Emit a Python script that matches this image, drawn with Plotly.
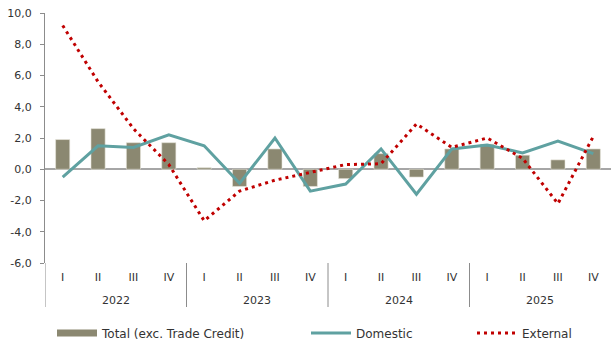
import plotly.graph_objects as go

# Quarterly contributions, 2022-2025
years = ["2022", "2023", "2024", "2025"]
quarters = ["I", "II", "III", "IV"]

total = [1.9, 2.6, 1.7, 1.7,
         0.1, -1.1, 1.3, -1.1,
         -0.6, 1.0, -0.5, 1.3,
         1.6, 0.9, 0.6, 1.3]
domestic = [-0.5, 1.5, 1.4, 2.2,
            1.5, -0.9, 2.0, -1.4,
            -0.95, 1.3, -1.6, 1.3,
            1.55, 1.05, 1.8, 1.0]
external = [9.2, 5.6, 2.6, 0.3,
            -3.3, -1.4, -0.7, -0.2,
            0.3, 0.35, 2.9, 1.4,
            2.0, 0.7, -2.2, 2.1]

y_ticks = [-6, -4, -2, 0, 2, 4, 6, 8, 10]
y_tick_text = ["-6,0", "-4,0", "-2,0", "0,0", "2,0", "4,0", "6,0", "8,0", "10,0"]

# one category per quarter, labelled with the quarter; years go underneath
periods = [f"{y} {q}" for y in years for q in quarters]
period_labels = [q for _ in years for q in quarters]

BAR_COLOR = "#8B8871"
TEAL = "#5FA1A1"
RED = "#C00000"
AXIS_GREY = "#8C8C8C"
FONT = "Verdana, DejaVu Sans, sans-serif"
TEXT = "#333333"

fig = go.Figure()

fig.add_trace(go.Bar(
    x=periods, y=total, name="Total (exc. Trade Credit)",
    marker=dict(color=BAR_COLOR, line=dict(color="#E8E6DC", width=0.6)),
    width=0.4, showlegend=False,
))
fig.add_trace(go.Scatter(
    x=periods, y=domestic, name="Domestic", mode="lines",
    line=dict(color=TEAL, width=3), legend="legend2",
))
fig.add_trace(go.Scatter(
    x=periods, y=external, name="External", mode="lines",
    line=dict(color=RED, width=3, dash="3px,4px"), legend="legend3",
))
# legend entry for the bars, drawn as a wide block
fig.add_trace(go.Scatter(
    x=[None], y=[None], name="Total (exc. Trade Credit)", mode="lines",
    line=dict(color=BAR_COLOR, width=7), legend="legend",
))

plot_left, plot_w = 45, 566
plot_bottom, plot_h = 263, 250


def px_to_paper_x(px):
    return (px - plot_left) / plot_w


def px_to_paper_y(py):
    return -(py - plot_bottom) / plot_h


# year labels centred under each group of quarters, with dividers between groups
nq = len(quarters)
for i, yr in enumerate(years):
    fig.add_annotation(
        x=i * nq + (nq - 1) / 2, xref="x", y=px_to_paper_y(300), yref="paper",
        text=yr, showarrow=False, yanchor="middle",
        font=dict(family=FONT, size=11, color=TEXT),
    )
for i in range(len(years)):
    fig.add_shape(
        type="line", xref="x", yref="paper",
        x0=i * nq - 0.5, x1=i * nq - 0.5, y0=0, y1=px_to_paper_y(307),
        line=dict(color=AXIS_GREY, width=1),
    )

leg_y = px_to_paper_y(333)
leg_common = dict(orientation="h", yanchor="middle", y=leg_y, xanchor="left",
                  bgcolor="rgba(0,0,0,0)", itemwidth=40,
                  font=dict(family=FONT, size=12, color=TEXT))

fig.update_layout(
    width=611, height=345,
    margin=dict(l=plot_left, r=0, t=13, b=82, autoexpand=False),
    paper_bgcolor="white", plot_bgcolor="white",
    font=dict(family=FONT, size=11, color=TEXT),
    bargap=0.6,
    legend=dict(x=px_to_paper_x(52), **leg_common),
    legend2=dict(x=px_to_paper_x(306), **leg_common),
    legend3=dict(x=px_to_paper_x(472), **leg_common),
    xaxis=dict(
        type="category", categoryorder="array", categoryarray=periods,
        tickvals=periods, ticktext=period_labels,
        range=[-0.5, len(periods) - 0.5],
        showline=False, ticks="", showgrid=False, zeroline=False,
        ticklabelstandoff=6, automargin=False,
        tickfont=dict(family=FONT, size=11, color=TEXT),
    ),
    yaxis=dict(
        range=[-6, 10], tickvals=y_ticks, ticktext=y_tick_text,
        showline=True, linecolor=AXIS_GREY, linewidth=1,
        ticks="outside", ticklen=4, tickcolor=AXIS_GREY,
        ticklabelstandoff=6, automargin=False,
        showgrid=False, zeroline=True, zerolinecolor="#A6A6A6", zerolinewidth=1.5,
        tickfont=dict(family=FONT, size=11, color=TEXT),
    ),
)

fig.write_html("out.html")
